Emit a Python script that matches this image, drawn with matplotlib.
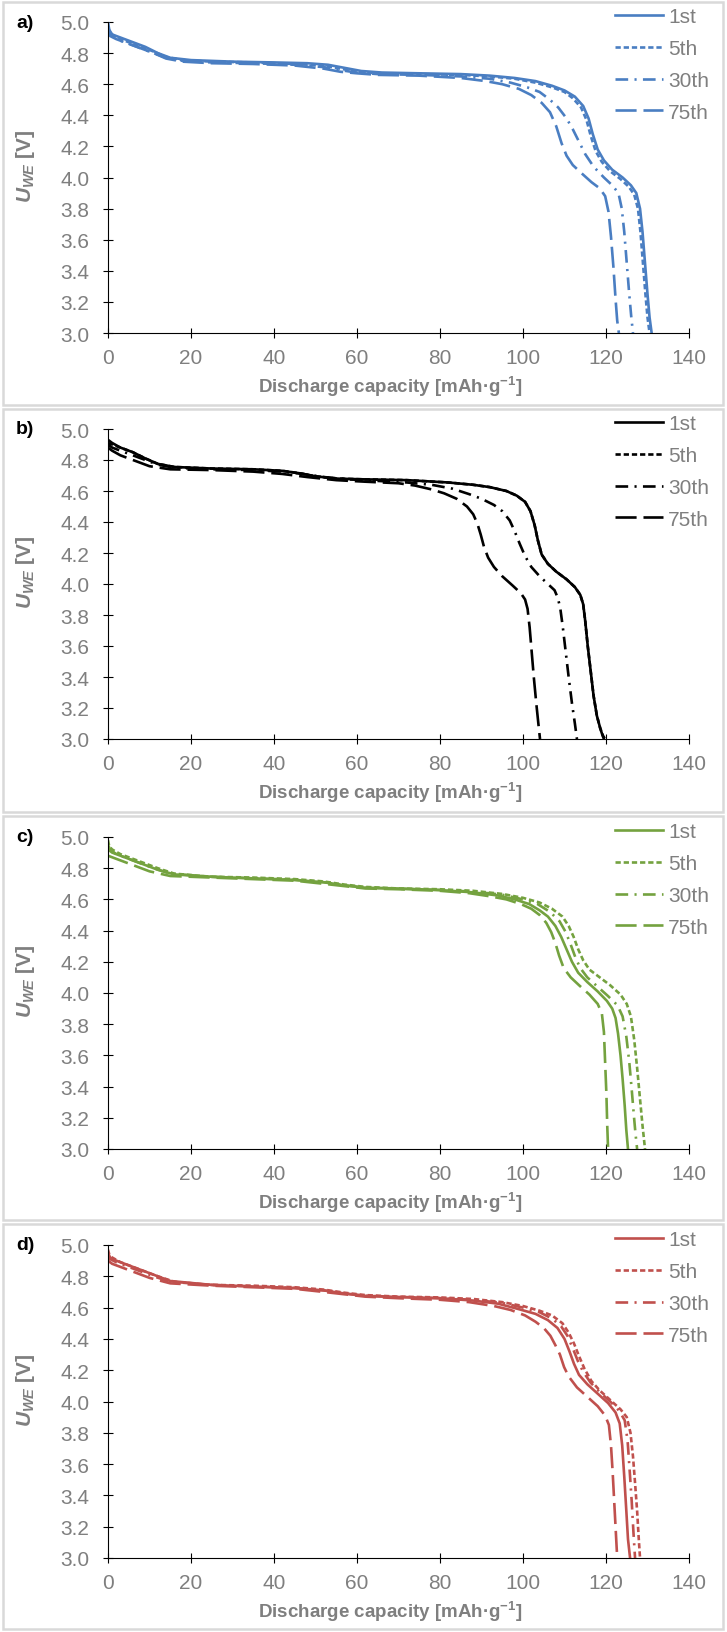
import matplotlib
matplotlib.use('Agg')
import matplotlib.pyplot as plt
from matplotlib.patches import Rectangle

plt.rcParams['font.family'] = ['Liberation Sans', 'DejaVu Sans']
plt.rcParams['mathtext.fontset'] = 'custom'
plt.rcParams['mathtext.it'] = 'Liberation Sans:italic:bold'
plt.rcParams['mathtext.rm'] = 'Liberation Sans:bold'

# Cycle labels and panel tags
CYCLES = ['1st', '5th', '30th', '75th']
PANELS = ['a)', 'b)', 'c)', 'd)']
X_TICKS = [0, 20, 40, 60, 80, 100, 120, 140]
Y_TICKS = [3.0, 3.2, 3.4, 3.6, 3.8, 4.0, 4.2, 4.4, 4.6, 4.8, 5.0]

# ---- panel a (blue) ----
a_1st_x = [0, 0.3, 1, 3, 6, 9, 12, 15, 20, 30, 40, 48, 53, 57, 61, 66, 75, 85, 92, 98, 103, 107, 110, 112.5, 114.5, 115.8, 116.8, 118, 119.5, 121.5, 124, 126, 127.3, 128.2, 128.8, 129.4, 130, 130.5, 131]
a_1st_y = [5.0, 4.95, 4.92, 4.90, 4.87, 4.84, 4.80, 4.77, 4.755, 4.745, 4.74, 4.735, 4.725, 4.705, 4.685, 4.675, 4.67, 4.665, 4.655, 4.64, 4.62, 4.59, 4.56, 4.52, 4.46, 4.38, 4.28, 4.18, 4.11, 4.05, 4.0, 3.95, 3.90, 3.80, 3.65, 3.45, 3.25, 3.10, 3.0]
a_5th_x = [0, 0.5, 2, 5, 8, 11, 14, 18, 25, 35, 45, 52, 56, 60, 65, 75, 85, 92, 98, 103, 107, 110, 112, 114, 115.3, 116.3, 117.5, 119, 121, 123.5, 125.5, 126.8, 127.7, 128.3, 128.9, 129.5, 130, 130.5]
a_5th_y = [4.97, 4.93, 4.90, 4.87, 4.84, 4.81, 4.775, 4.755, 4.745, 4.74, 4.73, 4.72, 4.70, 4.68, 4.67, 4.665, 4.66, 4.65, 4.635, 4.61, 4.58, 4.55, 4.51, 4.45, 4.37, 4.27, 4.17, 4.10, 4.04, 3.99, 3.94, 3.89, 3.80, 3.65, 3.45, 3.25, 3.10, 3.0]
a_30th_x = [0, 0.5, 2, 5, 8, 11, 14, 18, 25, 35, 45, 52, 56, 60, 65, 75, 85, 92, 97, 101, 104, 106.5, 108.5, 110.5, 112, 113.5, 115, 117, 119.5, 121.5, 123, 123.8, 124.4, 125, 125.6, 126.1, 126.5]
a_30th_y = [4.96, 4.92, 4.89, 4.86, 4.83, 4.80, 4.77, 4.75, 4.74, 4.735, 4.725, 4.71, 4.69, 4.675, 4.665, 4.66, 4.65, 4.635, 4.61, 4.58, 4.55, 4.50, 4.45, 4.38, 4.31, 4.23, 4.15, 4.07, 4.00, 3.95, 3.90, 3.80, 3.65, 3.45, 3.25, 3.10, 3.0]
a_75th_x = [0, 0.5, 2, 5, 8, 11, 14, 18, 25, 35, 45, 52, 56, 60, 65, 75, 85, 91, 95, 99, 102, 104.5, 106.5, 108, 109.3, 110.5, 112, 114, 116.5, 118.5, 119.8, 120.6, 121.2, 121.8, 122.3, 122.7, 123.1]
a_75th_y = [4.95, 4.91, 4.89, 4.86, 4.83, 4.80, 4.765, 4.745, 4.735, 4.73, 4.72, 4.70, 4.68, 4.67, 4.66, 4.655, 4.64, 4.62, 4.60, 4.57, 4.53, 4.48, 4.42, 4.33, 4.22, 4.14, 4.08, 4.03, 3.97, 3.93, 3.88, 3.78, 3.62, 3.42, 3.22, 3.08, 3.0]

# ---- panel b (black) ----
b_1st_x = [0, 1, 3, 6, 9, 12, 16, 25, 35, 42, 46, 50, 55, 62, 72, 82, 88, 92, 96, 98.5, 100.5, 101.8, 102.8, 103.6, 104.5, 106, 108, 110.5, 112.5, 113.8, 114.5, 115, 115.6, 116.3, 117, 117.8, 118.6, 119.2, 119.5]
b_1st_y = [4.93, 4.91, 4.88, 4.85, 4.81, 4.775, 4.755, 4.745, 4.74, 4.73, 4.715, 4.695, 4.68, 4.675, 4.67, 4.655, 4.64, 4.625, 4.60, 4.57, 4.53, 4.47, 4.38, 4.28, 4.19, 4.13, 4.08, 4.03, 3.98, 3.93, 3.87, 3.76, 3.60, 3.44, 3.28, 3.15, 3.07, 3.02, 3.0]
b_5th_x = [0, 1, 3, 6, 9, 12, 16, 25, 35, 42, 46, 50, 55, 62, 72, 82, 88, 92, 96, 98.5, 100.5, 101.8, 102.8, 103.6, 104.5, 106, 108, 110.5, 112.5, 113.8, 114.5, 115, 115.6, 116.3, 117, 117.8, 118.6, 119.3, 119.8]
b_5th_y = [4.91, 4.90, 4.88, 4.85, 4.81, 4.775, 4.755, 4.745, 4.74, 4.73, 4.715, 4.695, 4.68, 4.675, 4.67, 4.655, 4.64, 4.625, 4.60, 4.57, 4.53, 4.47, 4.38, 4.28, 4.19, 4.13, 4.08, 4.03, 3.98, 3.93, 3.87, 3.76, 3.60, 3.44, 3.28, 3.15, 3.07, 3.02, 3.0]
b_30th_x = [0, 1, 3, 6, 9, 12, 16, 25, 35, 42, 47, 52, 58, 65, 72, 78, 83, 87, 90, 93, 95, 96.8, 98, 99.2, 100.5, 102, 104, 106, 107.6, 108.4, 109, 109.6, 110.3, 111, 111.8, 112.5, 113]
b_30th_y = [4.90, 4.88, 4.86, 4.83, 4.80, 4.77, 4.75, 4.74, 4.735, 4.725, 4.71, 4.69, 4.675, 4.665, 4.655, 4.64, 4.615, 4.58, 4.55, 4.51, 4.47, 4.41, 4.34, 4.26, 4.18, 4.11, 4.05, 4.00, 3.96, 3.91, 3.84, 3.72, 3.56, 3.40, 3.23, 3.10, 3.0]
b_75th_x = [0, 1, 3, 6, 10, 15, 25, 35, 42, 48, 55, 62, 70, 74, 78, 81, 84, 86.5, 88, 89, 89.8, 90.6, 91.6, 93, 95, 97.5, 99.5, 100.5, 101.1, 101.6, 102.1, 102.6, 103.2, 103.7, 104.1]
b_75th_y = [4.88, 4.86, 4.83, 4.80, 4.76, 4.74, 4.735, 4.725, 4.71, 4.69, 4.67, 4.66, 4.65, 4.635, 4.61, 4.585, 4.55, 4.50, 4.45, 4.39, 4.32, 4.24, 4.17, 4.11, 4.05, 3.99, 3.94, 3.90, 3.84, 3.72, 3.56, 3.40, 3.23, 3.10, 3.0]

# ---- panel c (green) ----
c_1st_x = [0, 1, 3, 6, 9, 12, 16, 25, 35, 45, 52, 57, 62, 70, 80, 88, 94, 98, 101.5, 104, 106, 107.8, 109.2, 110.5, 111.8, 113.3, 115.5, 118, 120.2, 121.5, 122.3, 122.9, 123.5, 124, 124.5, 124.9, 125.3]
c_1st_y = [4.92, 4.90, 4.88, 4.85, 4.82, 4.79, 4.76, 4.745, 4.735, 4.725, 4.71, 4.69, 4.675, 4.67, 4.66, 4.645, 4.625, 4.60, 4.57, 4.53, 4.49, 4.43, 4.36, 4.28, 4.20, 4.13, 4.07, 4.01, 3.95, 3.90, 3.84, 3.74, 3.60, 3.45, 3.28, 3.12, 3.0]
c_5th_x = [0, 0.3, 1, 3, 6, 9, 12, 16, 25, 35, 45, 52, 57, 62, 70, 80, 88, 95, 100, 104, 107, 109.5, 111, 112.2, 113.3, 114.5, 116, 118.5, 121, 123.5, 125, 126, 126.8, 127.5, 128.2, 128.8, 129.4]
c_5th_y = [4.98, 4.94, 4.92, 4.89, 4.86, 4.83, 4.80, 4.765, 4.745, 4.74, 4.73, 4.715, 4.695, 4.68, 4.67, 4.665, 4.655, 4.635, 4.61, 4.58, 4.54, 4.49, 4.43, 4.36, 4.28, 4.21, 4.15, 4.10, 4.05, 3.99, 3.93, 3.85, 3.70, 3.52, 3.32, 3.15, 3.0]
c_30th_x = [0, 0.5, 2, 5, 8, 11, 15, 25, 35, 45, 52, 57, 62, 70, 80, 88, 95, 100, 103.5, 106.5, 108.8, 110.3, 111.5, 112.6, 113.8, 115.5, 118, 120.5, 122.8, 124, 124.9, 125.6, 126.2, 126.7, 127.1, 127.5]
c_30th_y = [4.95, 4.92, 4.89, 4.86, 4.83, 4.80, 4.765, 4.745, 4.735, 4.725, 4.71, 4.69, 4.675, 4.668, 4.66, 4.65, 4.63, 4.60, 4.57, 4.52, 4.46, 4.39, 4.31, 4.23, 4.16, 4.10, 4.04, 3.98, 3.92, 3.85, 3.72, 3.56, 3.38, 3.22, 3.10, 3.0]
c_75th_x = [0, 1, 3, 6, 10, 15, 25, 35, 45, 52, 57, 62, 70, 80, 87, 92, 96, 99.5, 102, 104, 105.6, 106.8, 107.8, 108.7, 109.8, 111.5, 113.5, 116, 118, 119, 119.5, 119.8, 120.1, 120.3, 120.5]
c_75th_y = [4.88, 4.87, 4.85, 4.82, 4.78, 4.75, 4.74, 4.73, 4.72, 4.70, 4.685, 4.67, 4.665, 4.655, 4.64, 4.62, 4.60, 4.57, 4.54, 4.50, 4.45, 4.39, 4.32, 4.24, 4.16, 4.10, 4.05, 3.99, 3.93, 3.87, 3.75, 3.55, 3.35, 3.15, 3.0]

# ---- panel d (red) ----
d_1st_x = [0, 0.5, 2, 5, 8, 11, 15, 25, 35, 45, 52, 57, 62, 70, 80, 88, 94, 99, 103, 106, 108.3, 110, 111.2, 112.3, 113.5, 115.5, 118, 120.5, 122.3, 123.3, 123.9, 124.4, 124.9, 125.3, 125.8]
d_1st_y = [4.95, 4.92, 4.90, 4.87, 4.84, 4.81, 4.77, 4.745, 4.735, 4.725, 4.71, 4.69, 4.675, 4.668, 4.66, 4.645, 4.625, 4.59, 4.56, 4.52, 4.47, 4.40, 4.32, 4.24, 4.17, 4.11, 4.05, 3.99, 3.93, 3.86, 3.72, 3.52, 3.30, 3.12, 3.0]
d_5th_x = [0, 0.3, 1, 3, 6, 9, 12, 16, 25, 35, 45, 52, 57, 62, 70, 80, 88, 95, 100, 104, 107, 109.5, 111, 112.3, 113.5, 114.8, 116.5, 118.5, 121, 123.5, 125, 125.9, 126.5, 127, 127.5, 127.9, 128.2]
d_5th_y = [4.97, 4.94, 4.92, 4.89, 4.86, 4.83, 4.80, 4.765, 4.745, 4.74, 4.73, 4.715, 4.695, 4.68, 4.67, 4.665, 4.655, 4.635, 4.61, 4.58, 4.55, 4.50, 4.44, 4.37, 4.29, 4.21, 4.13, 4.07, 4.01, 3.95, 3.90, 3.80, 3.65, 3.48, 3.30, 3.12, 3.0]
d_30th_x = [0, 0.5, 2, 5, 8, 11, 15, 25, 35, 45, 52, 57, 62, 70, 80, 88, 95, 100, 104, 107, 109.2, 110.7, 112, 113.2, 114.5, 116.3, 118.5, 121, 123.2, 124.5, 125.2, 125.7, 126.2, 126.6, 127]
d_30th_y = [4.94, 4.91, 4.89, 4.86, 4.83, 4.80, 4.765, 4.745, 4.735, 4.725, 4.71, 4.69, 4.675, 4.668, 4.66, 4.65, 4.63, 4.60, 4.57, 4.53, 4.48, 4.42, 4.34, 4.26, 4.19, 4.12, 4.06, 4.00, 3.94, 3.88, 3.75, 3.56, 3.36, 3.17, 3.0]
d_75th_x = [0, 1, 3, 6, 10, 15, 25, 35, 45, 52, 57, 62, 70, 80, 87, 93, 97, 100.5, 103, 105, 106.6, 107.8, 108.9, 109.9, 111, 113, 115.5, 118, 119.8, 120.7, 121.2, 121.6, 122, 122.4, 122.7]
d_75th_y = [4.90, 4.88, 4.86, 4.83, 4.79, 4.755, 4.74, 4.73, 4.72, 4.70, 4.685, 4.67, 4.66, 4.65, 4.635, 4.61, 4.585, 4.55, 4.51, 4.47, 4.42, 4.36, 4.30, 4.22, 4.16, 4.09, 4.03, 3.97, 3.91, 3.85, 3.72, 3.55, 3.35, 3.15, 3.0]

# Styling
COLORS = ['#4A7EC2', '#000000', '#74A23F', '#C0504D']
DASHES = [None, (2.0, 1.1), (4.8, 2.4, 0.8, 2.4), (8.0, 2.6)]
GREY = '#7F7F7F'
W, H = 727, 1633

# axes boxes in pixels: (top, bottom)
AX_PX = [(23, 334), (430, 740), (838, 1150), (1246, 1559)]
PANEL_PX = [(3, 406), (410, 813), (817, 1221), (1225, 1630)]
AX_LEFT, AX_RIGHT = 108, 689

data = [
    [(a_1st_x, a_1st_y), (a_5th_x, a_5th_y), (a_30th_x, a_30th_y), (a_75th_x, a_75th_y)],
    [(b_1st_x, b_1st_y), (b_5th_x, b_5th_y), (b_30th_x, b_30th_y), (b_75th_x, b_75th_y)],
    [(c_1st_x, c_1st_y), (c_5th_x, c_5th_y), (c_30th_x, c_30th_y), (c_75th_x, c_75th_y)],
    [(d_1st_x, d_1st_y), (d_5th_x, d_5th_y), (d_30th_x, d_30th_y), (d_75th_x, d_75th_y)],
]

fig = plt.figure(figsize=(W / 100, H / 100), dpi=100)

for i, panel in enumerate(data):
    # light grey frame round each panel
    top, bot = PANEL_PX[i]
    fig.patches.append(Rectangle((3 / W, 1 - bot / H), 720 / W, (bot - top) / H,
                                 transform=fig.transFigure, fill=False,
                                 edgecolor='#D9D9D9', linewidth=1.8))

    t, b = AX_PX[i]
    hpx = b - t
    ax = fig.add_axes([AX_LEFT / W, 1 - b / H, (AX_RIGHT - AX_LEFT) / W, hpx / H])

    for j, (xs, ys) in enumerate(panel):
        line, = ax.plot(xs, ys, color=COLORS[i], lw=1.9, label=CYCLES[j])
        if DASHES[j] is not None:
            line.set_dashes(DASHES[j])

    ax.set_xlim(0, 140)
    ax.set_ylim(3.0, 5.0)
    ax.set_xticks(X_TICKS)
    ax.set_yticks(Y_TICKS)
    ax.set_yticklabels([f'{v:.1f}' for v in Y_TICKS])
    for s in ['top', 'right']:
        ax.spines[s].set_visible(False)
    for s in ['left', 'bottom']:
        ax.spines[s].set_linewidth(0.8)
    ax.tick_params(direction='inout', length=7, width=0.8, labelsize=15,
                   labelcolor=GREY)
    ax.tick_params(axis='x', pad=7)
    ax.tick_params(axis='y', pad=10)

    ax.set_xlabel('Discharge capacity [mAh·g$^{\\mathregular{-1}}$]', fontsize=13.5,
                  fontweight='bold', color=GREY)
    ax.xaxis.set_label_coords(0.485, -53 / hpx)
    ax.xaxis.label.set_va('center')
    ax.set_ylabel('$U_{WE}$ [V]', fontsize=15, fontweight='bold', color=GREY)
    ax.yaxis.set_label_coords(-0.122, 0.54)

    ax.text(-(AX_LEFT - 16) / (AX_RIGHT - AX_LEFT), 1.0, PANELS[i], transform=ax.transAxes,
            fontsize=14, fontweight='bold', ha='left', va='center')

    leg = ax.legend(loc='upper left', bbox_to_anchor=((615 - AX_LEFT) / (AX_RIGHT - AX_LEFT),
                                                      1 + 15 / hpx),
                    frameon=False, fontsize=15, handlelength=2.3, handletextpad=0.25,
                    labelspacing=0.62, borderpad=0, borderaxespad=0)
    for txt in leg.get_texts():
        txt.set_color(GREY)

fig.savefig('out.png', dpi=100)
